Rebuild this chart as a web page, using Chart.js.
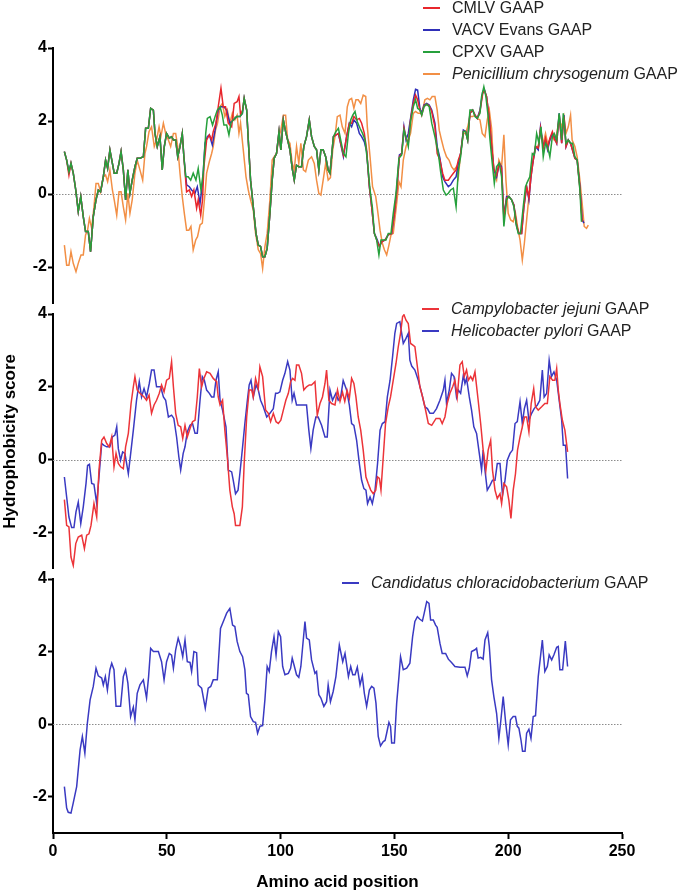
<!doctype html>
<html lang="en">
<head>
<meta charset="utf-8">
<title>GAAP hydrophobicity profiles</title>
<style>
    * { margin: 0; padding: 0; }
    body {
        width: 693px;
        height: 895px;
        position: relative;
        overflow: hidden;
        background: #fff;
        font-family: "Liberation Sans", Arial, sans-serif;
    }
    canvas { position: absolute; left: 0; }
    .legend {
        position: absolute;
        font-size: 16px;
        line-height: 22px;
        color: #222;
        white-space: nowrap;
        z-index: 2;
    }
    .legend .sw {
        display: inline-block;
        width: 17px;
        height: 2px;
        vertical-align: middle;
        margin-right: 12px;
        position: relative;
        top: -1px;
    }
</style>
</head>
<body>
<canvas id="panel1" width="693" height="316" style="top:0px"></canvas>
<canvas id="panel2" width="693" height="291" style="top:290px"></canvas>
<canvas id="panel3" width="693" height="340" style="top:555px"></canvas>
<div class="legend" id="legend1" style="left:423px; top:-3px"></div>
<div class="legend" id="legend2" style="left:422px; top:298px"></div>
<div class="legend" id="legend3" style="left:342px; top:572px"></div>

<script src="https://cdn.jsdelivr.net/npm/chart.js"></script>
<script>
    // axis ticks
    const xTicks = [0, 50, 100, 150, 200, 250];
    const yTicks = [-2, 0, 2, 4];

    // panel 1 : poxvirus GAAPs + Penicillium  [position, score]
    const cmlvGaap = [
        [5,1.16],[6,0.93],[7,0.52],[7.9,0.84],[8.9,0.57],[10,0.11],[11.1,-0.48],[12.2,-0.07],[13.3,-0.62],[14.3,-1.03],[15.5,-1.03],[16.5,-1.58],[17.7,-0.62],[18.9,-0.16],[19.9,0.11],[20.9,0.06],[22.1,0.47],[23.1,0.93],[24,0.7],[25,1.21],[26.1,0.84],[26.9,0.57],[28,0.57],[29,0.84],[29.9,1.16],[30.9,0.66],[31.9,-0.16],[32.9,0.66],[33.8,0.02],[34.8,0.38],[36,0.75],[37,0.98],[38.2,0.98],[39.7,1.02],[40.7,1.8],[41.9,1.8],[42.9,2.35],[44.1,2.3],[44.8,1.66],[45.8,1.3],[47,1.57],[48,0.66],[48.9,1.3],[49.9,1.66],[51.1,1.53],[52.1,1.57],[52.9,1.48],[53.9,1.48],[54.8,1.02],[55.8,1.3],[56.8,1.66],[57.5,1.02],
        [58.7,0.06],[59.9,0.11],[60.9,-0.07],[61.9,0.11],[63.1,-0.39],[63.8,-0.16],[64.9,-0.58],[65.7,-0.16],[66.3,0.75],[67.5,1.48],[68.7,1.62],[69.7,1.48],[70.4,1.71],[71.6,1.94],[72.6,2.39],[73.8,2.9],[74.8,2.39],[75.8,2.39],[77,1.94],[78.5,1.84],[79.6,2.48],[80.9,2.53],[81.7,2.67],[82.4,2.16],[83.3,2.3],[84,2.62],[85.1,2.3],[85.8,1.48],[86.8,0.38],[88,-0.35],[89.2,-1.08],[90.2,-1.4],[91.2,-1.44],[92.1,-1.72],[93.1,-1.72],[94.1,-1.49],[95.3,-0.53],[96.3,0.38],[97.2,0.98],[98.2,1.11],[99.3,1.71],[100.1,1.21],[101.2,2.03],[102.2,1.71],[103.1,1.48],[104.1,1.21],[105.1,0.7],[106,0.38],[107,0.79],[108,0.75],[109.2,0.75],[110.2,1.3],[111.4,1.57],[112.6,2.03],[113.6,1.57],[114.8,1.3],[115.8,1.21],[116.8,0.66],[117.7,1.21],[118.7,1.21],[119.8,1.02],[120.9,0.66],[121.7,0.57],
        [123.2,1.57],[125.4,1.66],[127.6,1.07],[129,1.57],[130.2,1.94],[131.2,1.94],[132.2,2.12],[133.4,2.03],[134.6,2.07],[135.6,1.94],[136.8,1.66],[137.8,1.21],[139,0.2],[140,-0.35],[141.2,-1.08],[142.5,-1.31],[143.4,-1.44],[144.4,-1.31],[145.9,-1.26],[147.3,-1.12],[148.8,-1.08],[150,-0.53],[151,0.06],[152.2,1.02],[153.2,1.11],[154.2,1.8],[155.1,1.53],[156.1,1.39],[157.1,2.03],[158.3,2.48],[159.3,2.71],[160.2,2.58],[161.2,2.3],[162,2.16],[163,2.41],[164.2,2.46],[165.3,2.41],[166.4,2.26],[167.8,1.84],[168.8,1.11],[170,0.93],[171.2,0.57],[172.2,0.38],[173.7,0.38],[174.7,0.47],[175.9,0.57],[177.1,0.66],[178.1,0.93],[179.1,1.11],[180.3,1.71],[181.3,1.71],[182.2,1.48],[183.2,2.21],[184.4,2.3],[185.4,2.16],[186.4,2.07],[187.6,2.26],[188.8,2.75],[189.5,2.85],[190.5,2.67],[191.7,2.07],[192.7,1.34],[193.7,0.7],[194.9,0.52],[196.1,0.84],[197.1,0.7],[198.1,-0.66],[199.3,-0.11],[200.3,-0.07],[201.5,-0.16],[202.5,-0.3],[203.7,-0.85],[204.7,-1.08],[205.9,-1.08],[206.9,-0.35],[208.1,0.2],[209.1,-0.11],[210,0.47],[211,0.93],[212,1.3],[213.2,1.26],[214.2,1.8],[215.4,1.26],[216.4,1.53],[217.3,1.26],[218.3,1.53],[219.4,1.71],[220.2,1.53],[221.3,1.39],[222.4,2.16],[223.5,1.39],[224.5,2.12],[225.4,1.3],[226.4,1.48],[227.4,1.39],[229.3,0.98],[230.3,0.93],[231.5,0.16],[232.5,-0.76]
    ];
    const vacvEvansGaap = [
        [5,1.16],[6,0.93],[7,0.61],[7.9,0.84],[8.9,0.57],[10,0.11],[11.1,-0.48],[12.2,-0.07],[13.3,-0.62],[14.3,-1.03],[15.5,-1.03],[16.5,-1.58],[17.7,-0.62],[18.9,-0.16],[19.9,0.11],[20.9,0.06],[22.1,0.47],[23.1,0.93],[24,0.7],[25,1.21],[26.1,0.84],[26.9,0.57],[28,0.57],[29,0.84],[29.9,1.16],[30.9,0.66],[31.9,-0.16],[32.9,0.66],[33.8,0.02],[34.8,0.38],[36,0.75],[37,0.98],[38.2,0.98],[39.7,1.02],[40.7,1.8],[41.9,1.8],[42.9,2.35],[44.1,2.3],[44.8,1.66],[45.8,1.3],[47,1.57],[48,0.66],[48.9,1.3],[49.9,1.66],[51.1,1.53],[52.1,1.57],[52.9,1.48],[53.9,1.48],[54.8,1.02],[55.8,1.3],[56.8,1.66],[57.5,1.02],
        [58.7,0.25],[59.9,0.2],[60.9,0.11],[62.4,0.02],[63.4,0.2],[64.6,-0.26],[65.7,0.29],[66.8,1.39],[67.8,1.57],[68.7,1.62],[70,1.34],[71.2,1.75],[72.6,2.3],[73.8,2.39],[75.1,2.39],[76.3,2.3],[77.7,1.94],[79.2,2.03],[80.7,2.12],[82.1,2.12],[83.2,2.21],[84,2.62],[85.1,2.3],[85.8,1.48],[86.8,0.38],[88,-0.35],[89.2,-1.08],[90.2,-1.4],[91.2,-1.44],[92.1,-1.72],[93.1,-1.72],[94.1,-1.49],[95.3,-0.53],[96.3,0.38],[97.2,0.98],[98.2,1.11],[99.3,1.71],[100.1,1.21],[101.2,2.03],[102.2,1.71],[103.1,1.48],[104.1,1.21],[105.1,0.7],[106,0.38],[107,0.79],[108,0.75],[109.2,0.75],[110.2,1.3],[111.4,1.57],[112.6,2.03],[113.6,1.57],[114.8,1.3],[115.8,1.21],[116.8,0.66],[117.7,1.21],[118.7,1.21],[119.8,1.02],[120.9,0.66],[121.7,0.57],
        [123.2,1.57],[125.4,1.66],[127.6,1.02],[129,1.57],[130.2,1.94],[131.2,1.84],[132.2,2.03],[133.4,1.94],[134.6,1.66],[135.6,1.57],[136.8,1.43],[137.8,1.16],[139,0.2],[140,-0.35],[141.2,-1.08],[142.5,-1.26],[143.4,-1.44],[144.4,-1.31],[145.9,-1.26],[147.3,-1.12],[148.8,-1.08],[150,-0.53],[151,0.11],[152.2,1.07],[153.2,1.11],[154.2,1.84],[155.1,1.48],[156.1,1.66],[157.1,2.07],[158.3,2.58],[159.3,2.87],[160.2,2.85],[161.2,2.35],[162,2.21],[163,2.44],[164.2,2.48],[165.3,2.44],[166.4,2.3],[167.8,1.94],[168.8,1.3],[170,0.98],[171.2,0.47],[172.2,0.34],[173.7,0.2],[174.7,0.25],[175.9,0.38],[177.1,0.47],[178.1,0.84],[179.1,1.11],[180.3,1.75],[181.3,1.71],[182.2,1.48],[183.2,2.21],[184.4,2.3],[185.4,2.16],[186.4,2.07],[187.6,2.3],[188.8,2.8],[189.5,2.87],[190.5,2.67],[191.7,2.03],[192.7,1.3],[193.7,0.66],[194.9,0.47],[196.1,0.84],[197.1,0.75],[198.1,-0.62],[199.3,-0.07],[200.3,-0.07],[201.5,-0.16],[202.5,-0.3],[203.7,-0.89],[204.7,-1.08],[205.9,-1.08],[206.9,-0.35],[208.1,0.2],[209.1,-0.16],[210,0.47],[211,0.93],[212,1.3],[213.2,1.21],[214.2,1.84],[215.4,1.3],[216.4,1.48],[217.3,1.21],[218.3,1.48],[219.4,1.66],[220.2,1.57],[221.3,1.39],[222.4,2.21],[223.5,1.39],[224.5,2.16],[225.4,1.3],[226.4,1.48],[227.4,1.39],[229.3,0.98],[230.3,0.93],[231.5,0.2],[232.5,-0.71],[233.3,-0.8]
    ];
    const cpxvGaap = [
        [5,1.16],[6,0.93],[7,0.61],[7.9,0.84],[8.9,0.57],[10,0.11],[11.1,-0.48],[12.2,-0.07],[13.3,-0.62],[14.3,-1.03],[15.5,-1.03],[16.5,-1.58],[17.7,-0.62],[18.9,-0.16],[19.9,0.11],[20.9,0.06],[22.1,0.47],[23.1,0.93],[24,0.7],[25,1.21],[26.1,0.84],[26.9,0.57],[28,0.57],[29,0.84],[29.9,1.16],[30.9,0.66],[31.9,-0.16],[32.9,0.66],[33.8,0.02],[34.8,0.38],[36,0.75],[37,0.98],[38.2,0.98],[39.7,1.02],[40.7,1.8],[41.9,1.8],[42.9,2.35],[44.1,2.3],[44.8,1.66],[45.8,1.3],[47,1.57],[48,0.66],[48.9,1.3],[49.9,1.66],[51.1,1.53],[52.1,1.57],[52.9,1.48],[53.9,1.48],[54.8,1.02],[55.8,1.3],[56.8,1.66],[57.5,1.02],[58.3,0.47],[59.4,0.47],[60.5,0.38],[61.6,0.57],[62.8,0.38],[63.8,0.7],[65,0.11],[66,0.57],[67.1,1.66],[67.8,2.07],[69,2.12],[70.1,1.89],[71.2,2.12],[72.2,2.3],[73.4,2.39],[74.4,2.16],[75.1,1.89],[76.3,1.89],[77.3,1.62],[78.2,1.94],[79.2,2.03],[80.7,2.12],[82.1,2.12],[83.2,2.21],[84,2.62],[85.1,2.3],[85.8,1.48],[86.8,0.38],[88,-0.35],[89.2,-1.08],[90.2,-1.4],[91.2,-1.44],[92.1,-1.72],[93.1,-1.72],[94.1,-1.49],[95.3,-0.53],[96.3,0.38],[97.2,0.98],[98.2,1.11],[99.3,1.71],[100.1,1.21],[101.2,2.03],[102.2,1.71],[103.1,1.48],[104.1,1.21],[105.1,0.7],[106,0.38],[107,0.79],[108,0.75],[109.2,0.75],[110.2,1.3],[111.4,1.57],[112.6,2.03],[113.6,1.57],[114.8,1.3],[115.8,1.21],[116.8,0.66],[117.7,1.21],[118.7,1.21],[119.8,1.02],[120.9,0.66],[121.7,0.57],
        [123.2,1.57],[124.3,1.71],[125.4,1.8],[126.4,1.48],[127.6,1.11],[128.7,1.02],[129.8,1.66],[130.8,2.03],[131.7,2.16],[132.7,2.26],[133.7,1.98],[134.9,1.8],[136,1.66],[137.1,1.48],[138.1,0.93],[139.3,0.11],[140.3,-0.35],[141.2,-1.08],[142.2,-1.26],[143.2,-1.67],[144.1,-1.26],[145.1,-1.26],[146.3,-1.26],[147.3,-1.08],[148.5,-1.08],[149.5,-0.53],[150.7,0.02],[152,0.98],[153.2,1.07],[154.2,1.75],[155.1,1.57],[156.1,1.3],[157.1,1.98],[158.3,2.39],[159.3,2.58],[160.2,2.35],[161.2,2.3],[162,2.16],[163,2.39],[164.2,2.46],[165.3,2.39],[166.4,1.94],[167.8,1.57],[169.3,1.11],[170.3,0.61],[171.5,0.11],[172.7,-0.03],[173.7,0.02],[174.7,0.11],[175.9,0.16],[177.1,-0.35],[178.1,0.66],[179.1,1.02],[180.3,1.71],[181.3,1.71],[182.2,1.48],[183.2,2.3],[184.4,2.3],[185.4,2.12],[186.4,2.07],[187.6,2.21],[188.3,2.67],[189.3,2.94],[190.2,2.67],[191.2,2.12],[192,1.48],[193,0.84],[193.9,0.29],[194.9,0.75],[196.1,0.84],[197.1,0.47],[198.1,-0.89],[199.3,-0.16],[200.3,-0.07],[201.5,-0.16],[202.5,-0.35],[203.4,-0.8],[204.4,-1.08],[205.4,-1.08],[206.6,-0.35],[207.6,0.2],[208.5,0.34],[209.5,0.47],[210.6,1.11],[211.5,1.07],[212.5,1.66],[213.5,1.39],[214.4,1.84],[215.4,1.02],[216.4,1.39],[217.3,1.3],[218.3,1.02],[219.4,1.57],[220.2,1.66],[221.3,1.48],[222.4,2.21],[223.5,1.48],[224.2,2.21],[225.4,1.39],[226.4,1.48],[227.4,1.39],[228.3,1.39],[229.3,1.02],[230.3,0.93],[231.5,0.11],[232.2,-0.76]
    ];
    const penicilliumGaap = [
        [5,-1.4],[6,-1.95],[7,-1.95],[7.9,-1.58],[8.9,-1.9],[10.1,-2.13],[11.1,-1.9],[12.3,-1.67],[13.3,-1.67],[14.3,-1.12],[15.2,-0.99],[16,-0.67],[17,-0.94],[18,-0.35],[18.9,0.29],[19.9,0.29],[20.9,0.06],[22.1,0.47],[23.1,0.52],[24,0.34],[25,0.66],[26.1,0.11],[26.9,-0.16],[28,-0.58],[29,0.06],[29.9,0.06],[30.9,-0.35],[31.9,-0.71],[32.9,0.02],[33.8,-0.53],[34.8,-0.16],[36,0.57],[37,0.93],[38.2,0.66],[39.4,0.38],[40.4,1.11],[41.1,1.3],[42.2,1.71],[43.3,1.84],[44.5,1.3],[45.5,1.48],[46.6,1.84],[47.4,1.57],[48.5,1.94],[49.5,1.66],[50.7,1.48],[51.7,1.3],[52.9,1.66],[53.9,1.66],[54.8,1.3],[55.8,0.57],[56.8,-0.07],[57.7,-0.53],[58.7,-0.99],[59.7,-0.99],[60.6,-0.89],[61.6,-1.53],[62.7,-1.26],[63.5,-1.17],[64.6,-0.85],[65.6,-0.8],[66.8,0.02],[67.5,0.57],[68.7,0.89],[69.7,1.11],[70.4,1.3],[71.4,1.75],[72.3,1.94],[73.4,2.39],[74.4,2.48],[75.5,2.12],[76.6,2.3],[77.7,1.94],[78.8,2.21],[79.9,2.03],[80.9,2.16],[81.7,1.66],[82.4,1.94],[83.6,1.21],[84.8,0.47],[85.8,0.11],[86.8,-0.16],[88,-0.44],[89,-1.08],[90.2,-1.53],[91.2,-1.63],[92.1,-2.04],[93.1,-1.44],[94.1,-1.08],[95.3,-0.16],[96.3,0.93],[97.2,1.02],[98.2,1.11],[99.3,1.57],[100.1,1.75],[101.2,2.16],[102.2,2.16],[103.1,1.48],[104.1,1.39],[105.1,0.84],[106,0.66],[107,1.3],[108,0.84],[108.9,1.39],[110,0.66],[111,0.61],[112.2,0.93],[113.6,1.02],[114.8,0.84],[115.8,0.38],[116.8,0.02],[117.7,-0.03],[118.7,0.38],[119.8,0.84],[120.9,0.38],[121.9,0.45],
        [122.9,1.21],[123.9,1.57],[124.9,2.12],[126.1,2.16],[127.1,1.84],[128.3,1.66],[129.3,2.39],[130.2,2.58],[131.2,2.62],[132.2,2.35],[133.1,2.58],[134.1,2.58],[135.2,2.48],[136.3,2.71],[137.4,2.67],[138.1,1.84],[139.3,1.02],[140.4,0.2],[141.8,-0.07],[142.6,-0.44],[143.7,-0.99],[144.7,-1.35],[145.6,-1.53],[146.6,-1.67],[147.6,-1.4],[148.5,-1.12],[149.5,-1.08],[151,-0.26],[152,0.34],[152.9,0.2],[153.9,0.93],[155.1,1.3],[156.1,1.48],[157.1,1.66],[158.3,2.21],[159.3,2.26],[160.5,2.21],[161.5,2.21],[162.4,2.3],[163.4,2.58],[164.5,2.62],[165.6,2.58],[166.6,2.67],[167.8,2.67],[168.8,2.3],[169.7,1.75],[170.7,1.48],[171.8,1.21],[172.9,1.02],[174,0.93],[175.1,0.75],[176.2,0.66],[177.3,0.75],[178.1,0.47],[179.1,1.11],[180.3,1.66],[181.3,1.66],[182.2,1.84],[183.2,2.12],[184.4,2.12],[185.4,2.16],[186.4,2.07],[187.6,2.03],[188.6,1.66],[189.8,1.57],[190.8,2.03],[191.7,2.3],[192.7,1.8],[193.7,0.57],[194.9,0.38],[195.9,0.93],[197.1,0.75],[198.1,1.62],[199,0.38],[200,-0.53],[201.1,-0.71],[202.2,-0.76],[203.2,-0.53],[204.1,-0.89],[205.2,-1.26],[206.2,-1.81],[207.1,-1.35],[208.1,-0.71],[209.1,-0.07],[210,0.66],[211,0.93],[212,1.3],[213.2,1.3],[214.2,1.71],[215.4,1.39],[216.4,1.66],[217.3,1.39],[218.3,1.48],[219.4,1.57],[220.2,1.48],[221.3,1.66],[222.4,2.03],[223.5,1.84],[224.5,2.12],[225.4,1.66],[226.4,1.84],[227.4,2.16],[228.1,1.48],[229.3,1.3],[230.3,1.02],[231.5,0.38],[232.5,-0.26],[233.4,-0.89],[234.4,-0.94],[235.2,-0.85]
    ];

    // panel 2 : bacterial GAAPs
    const campylobacterGaap = [
        [5,-1.1],[6,-1.81],[7,-1.85],[7.9,-2.68],[8.9,-2.91],[10,-2.31],[11.1,-2.13],[12.6,-2.08],[13.8,-2.45],[14.8,-2.08],[15.8,-2.04],[16.7,-1.81],[18,-1.21],[19.2,-1.58],[20.2,-0.29],[21.4,0.53],[22.4,0.62],[23.6,0.44],[24.7,0.35],[25.8,0.62],[26.8,-0.2],[27.7,0.17],[28.7,-0.11],[29.7,-0.2],[30.9,-0.25],[31.9,0.35],[33.1,0.72],[34.3,1.54],[35.3,2.0],[36,2.28],[37,1.91],[38.2,1.82],[40,1.72],[41.1,1.63],[42.2,1.77],[43.3,1.27],[44.4,1.5],[45.5,1.63],[46.7,1.82],[47.7,2.05],[48.8,1.86],[49.9,2.18],[51.1,2.23],[52.1,2.69],[52.9,2.0],[53.9,1.27],[55,0.94],[56.1,0.9],[57,0.58],[58,0.94],[59,0.62],[60.2,0.85],[61.3,1.04],[62.4,1.08],[63.4,1.72],[64.3,2.5],[65.3,2.0],[66.3,2.23],[67.5,2.41],[69,2.37],[70.4,2.23],[71.9,2.14],[72.6,1.72],[73.4,1.5],[74.5,1.63],[75.5,0.81],[76.6,0.07],[77.7,-0.84],[78.8,-1.3],[79.6,-1.49],[80.2,-1.81],[82.1,-1.81],[83.2,-1.3],[84,-0.11],[85.1,1.17],[86.2,1.91],[87.3,1.91],[88,1.72],[89,2.23],[90.2,1.95],[90.9,2.55],[92.1,2.28],[93.4,1.36],[94.6,1.27],[95.6,1.04],[96.8,1.27],[98,1.04],[99,0.99],[100.1,1.08],[101.2,1.36],[102.3,1.63],[103.4,1.82],[104.4,2.14],[105.3,2.23],[106.3,2.18],[107,2.6],[108,2.6],[109.2,2.37],[110.2,1.91],[111.4,2.0],[112.6,2.05],[113.6,2.05],[115.1,2.14],[116.1,1.22],[117.3,1.54],[118.4,1.72],[119.5,2.09],[120.2,2.46],[121.2,1.63],[122.4,1.54],
        [123.9,1.5],[125,1.91],[126.1,1.6],[127.2,1.85],[128.2,1.6],[129.2,1.9],[130.2,1.68],[131.2,2.23],[132.2,2.09],[133.1,1.72],[134.1,1.17],[135.2,0.81],[136.3,0.26],[137.5,-0.48],[138.5,-0.66],[139.6,-0.84],[140.7,-0.94],[141.8,-0.84],[142.6,-0.48],[143.4,-0.52],[144.1,-0.84],[145.1,0.07],[146.1,0.99],[147.3,1.45],[148.3,1.72],[149.5,2.18],[150.7,2.64],[151.7,3.1],[152.7,3.47],[153.6,3.93],[154.2,3.98],[155.1,3.83],[156.1,3.74],[157.1,3.19],[158,3.15],[159,3.1],[160.1,2.55],[161.2,2.0],[162.4,1.72],[163.4,1.45],[164.9,0.99],[166.4,0.94],[168.3,1.13],[170,1.13],[171,0.99],[172.2,1.17],[173.2,1.54],[174.4,1.82],[175.6,2.0],[176.6,2.18],[177.6,1.72],[178.8,2.6],[179.8,2.69],[180.7,2.28],[181.7,2.46],[182.5,2.18],[183.5,2.28],[184.4,2.18],[185.4,2.41],[186.8,1.63],[187.9,0.99],[189,0.26],[190.2,-0.29],[191.2,0.26],[192.3,0.53],[193.1,-0.29],[194.2,-0.84],[195.2,-1.07],[196.4,-0.94],[197.1,-1.21],[198.1,-0.66],[199.3,-0.75],[200.3,-1.12],[201.2,-1.62],[202.2,-0.84],[203.2,-0.39],[204.1,0.26],[205.2,0.62],[206.2,0.9],[207.2,1.17],[208.1,1.17],[209.1,0.76],[210.1,1.54],[211.2,1.95],[212,1.45],[213.2,1.36],[214.7,1.45],[216.1,1.54],[217.2,1.54],[218.3,2.28],[219.5,2.18],[220.5,2.18],[221.3,2.5],[222,1.91],[222.7,1.54],[223.8,1.08],[224.9,0.81],[226.1,0.21]
    ];
    const helicobacterGaap = [
        [5,-0.48],[6,-1.03],[7,-1.58],[8.2,-1.87],[9.2,-1.87],[10.1,-1.44],[11.1,-1.17],[12.2,-1.76],[13.3,-1.3],[14.5,-0.66],[15.2,-0.16],[16,-0.13],[17,-0.66],[18,-0.68],[19.2,-1.21],[20.2,-0.48],[21.4,0.44],[22.4,0.39],[23.6,0.35],[25,0.35],[26.1,0.62],[27.2,0.67],[28,0.9],[28.7,0.3],[29.7,-0.02],[30.6,0.21],[31.6,0.17],[33.1,-0.39],[34.3,0.26],[35.3,0.81],[36.7,1.63],[37.9,2.14],[38.9,1.72],[40,1.95],[41.1,1.72],[42.3,2.09],[43.3,2.46],[44.4,2.46],[45.5,2.0],[47.3,2.0],[48.5,1.72],[49.5,1.63],[50.7,1.17],[52.1,1.22],[53.1,1.13],[54.3,0.62],[55.3,0.07],[56.1,-0.29],[57.2,0.17],[58,0.35],[59,0.76],[60.2,0.94],[61.3,0.99],[62.4,0.72],[63.4,0.72],[64.6,1.63],[65.6,2.28],[66.5,2.18],[67.5,1.91],[68.7,1.82],[69.7,1.72],[70.7,1.72],[71.6,2.18],[72.6,2.41],[73.4,1.63],[74.5,1.36],[76,0.9],[77,-0.29],[78.5,-0.34],[79.2,-0.57],[80.2,-0.94],[81.3,-0.84],[82.1,-0.39],[83.3,0.35],[84.3,0.99],[85.4,1.63],[86.2,2.05],[87,2.18],[88,1.72],[89.2,2.05],[90.2,1.91],[91.2,1.63],[92.4,1.45],[93.9,1.17],[95.3,1.27],[96.8,1.4],[97.8,1.82],[98.7,1.82],[99.7,1.86],[100.9,2.18],[101.9,2.37],[103.1,2.69],[104.1,2.46],[105.1,1.63],[105.9,1.82],[107,1.5],[109.2,1.5],[111.4,1.5],[112.4,0.81],[113.3,0.3],[114.3,0.81],[115.5,1.17],[116.5,1.17],[118,0.94],[119.5,0.62],[120.5,0.62],[121.7,1.91],[122.8,1.63],[124.3,1.82],[125.3,1.63],[126.4,1.72],[127.5,2.17],[129,1.91],[130.2,1.5],
        [131.2,0.99],[132.2,0.94],[133.4,0.53],[134.6,-0.11],[135.6,-0.57],[136.6,-0.8],[137.5,-0.84],[138.2,-1.21],[139.3,-1.03],[140.3,-1.21],[141.5,-0.84],[142.6,-0.11],[143.7,0.81],[144.7,0.99],[145.9,1.04],[146.9,1.72],[148.1,2.18],[149.2,2.83],[150.2,3.47],[151,3.74],[152.4,3.79],[153.2,3.47],[153.9,3.19],[155.1,3.33],[156.1,3.47],[156.8,2.73],[157.6,2.57],[159,2.46],[160.5,2.18],[162,1.82],[163.4,1.45],[164.5,1.4],[165.6,1.27],[167.1,1.27],[168.5,1.4],[170,1.63],[171.5,1.91],[172.2,2.18],[172.9,1.54],[174.1,1.91],[175.1,2.37],[176.2,2.28],[177.3,1.72],[178.1,1.91],[179.1,1.82],[180.3,2.32],[181,2.09],[181.7,2.23],[182.9,1.72],[183.9,1.36],[184.9,0.9],[186.1,0.72],[187.3,0.17],[188.3,-0.29],[189,0.26],[189.8,-0.29],[190.8,-0.84],[192,-0.71],[193.1,-0.57],[194.2,-0.57],[195.2,-0.11],[196.4,-0.11],[197.5,-0.98],[198.6,-0.57],[199.6,-0.02],[200.8,0.17],[201.9,0.26],[203,0.99],[204,1.04],[205.2,1.59],[206.2,0.99],[207.1,1.4],[208.1,1.63],[209.1,1.08],[210.3,1.27],[211.4,1.4],[212.8,1.5],[213.9,1.63],[215,2.46],[215.8,1.72],[216.9,1.82],[218,2.73],[219,2.28],[220.1,2.41],[221.3,2.18],[222.4,1.63],[223.5,1.08],[224.2,0.39],[225.2,0.39],[226.1,-0.52]
    ];

    // panel 3
    const candidatusGaap = [
        [5,-1.72],[6,-2.31],[6.7,-2.43],[7.9,-2.45],[8.9,-2.17],[10.4,-1.72],[11.9,-0.71],[12.9,-0.34],[14,-0.8],[15.1,0.03],[16.3,0.67],[17.7,1.04],[18.9,1.54],[19.9,1.33],[21.4,1.27],[22.1,1.08],[23,1.31],[23.9,0.94],[25,1.5],[25.8,1.68],[26.8,1.5],[27.7,0.49],[29.7,0.49],[30.9,1.31],[31.9,1.5],[32.9,1.13],[34.1,0.21],[35.3,0.47],[36,0.12],[37,0.85],[38.2,1.08],[39.7,1.22],[41.1,0.72],[42,1.31],[42.9,2.09],[44.1,2.0],[46.3,2.0],[47.7,1.72],[48.8,1.22],[49.9,1.72],[51.1,1.95],[52.1,1.9],[52.9,1.54],[53.9,2.05],[55,2.37],[56.1,2.14],[57,1.86],[58,2.32],[59,1.72],[60.2,1.7],[60.9,1.45],[61.9,2.0],[63.1,1.97],[63.8,1.08],[65.3,0.99],[66.9,0.44],[68.2,0.99],[69.3,1.04],[70.4,1.22],[72.2,1.22],[73.6,2.64],[75.1,2.87],[76.3,3.06],[77.7,3.19],[78.9,2.73],[79.9,2.69],[80.9,2.28],[82.1,2.0],[83.3,1.86],[84.3,1.5],[85,0.85],[85.8,0.81],[86.8,0.21],[88,0.07],[89,0.05],[89.9,-0.25],[90.9,-0.06],[92.1,-0.04],[93.1,0.67],[94.1,1.59],[95,1.45],[96,2.0],[97.1,2.41],[98,1.9],[99,2.55],[100,2.41],[100.9,1.59],[101.9,1.36],[103.4,1.4],[104.4,1.54],[105.1,1.82],[105.9,1.63],[107,1.36],[108,1.29],[108.9,1.59],[109.7,2.14],[110.7,2.83],[111.4,2.37],[112.6,2.32],[113.6,1.77],[115.1,1.4],[115.8,1.45],[116.8,0.81],[117.7,0.72],[119,0.49],[120.2,0.62],[120.9,1.08],[121.9,0.62],[123.1,0.9],[124.3,1.31],[125.8,2.18],[127.3,1.72],[128.3,1.95],[129.8,1.31],[130.8,1.59],[131.7,1.36],[132.7,1.36],[133.7,1.57],[134.9,1.08],[135.9,1.33],[136.8,0.85],[137.8,0.49],[139,0.94],[140,1.04],[141,0.99],[141.9,0.58],[142.9,-0.34],[143.9,-0.6],[145.1,-0.48],[145.9,-0.45],[146.6,-0.25],[147.6,0.05],[148.3,-0.06],[148.8,-0.52],[150,-0.52],[151,0.58],[152,1.31],[152.7,1.86],[153.9,1.5],[155.4,1.54],[156.8,1.68],[158,2.41],[159,2.83],[160.1,2.96],[161.2,2.89],[162.3,2.84],[163.1,3.06],[164.2,3.38],[165.2,3.33],[165.9,2.87],[167.1,2.87],[168.1,2.73],[168.8,2.67],[170,2.23],[171,1.95],[172.5,1.95],[173.7,1.79],[175.1,1.7],[176.6,1.59],[178.8,1.57],[181,1.57],[182,1.33],[182.9,1.54],[183.9,2.0],[185.4,2.05],[186.1,2.09],[186.8,1.82],[187.9,1.84],[189,1.79],[189.8,2.32],[191,2.52],[191.7,2.14],[192.7,1.22],[193.7,0.76],[194.9,0.3],[195.9,-0.39],[196.8,0.12],[197.8,0.76],[198.9,0.03],[200,-0.57],[201,0.12],[202.2,0.21],[203.2,0.21],[204,-0.06],[204.7,-0.11],[205.6,-0.43],[206.3,-0.75],[207.4,-0.75],[208.1,-0.25],[209.1,-0.14],[210,-0.39],[211,0.21],[212,0.23],[213.2,1.31],[215,2.32],[216.1,1.45],[217.2,1.59],[218,1.91],[219.1,1.77],[220.1,1.91],[221.3,2.12],[222,2.14],[222.7,1.5],[223.9,1.5],[225.1,2.29],[226.1,1.59]
    ];

    // legend texts
    const panel1Labels = ['CMLV GAAP', 'VACV Evans GAAP', 'CPXV GAAP', '<i>Penicillium chrysogenum</i> GAAP'];
    const panel2Labels = ['<i>Campylobacter jejuni</i> GAAP', '<i>Helicobacter pylori</i> GAAP'];
    const panel3Labels = ['<i>Candidatus chloracidobacterium</i> GAAP'];

    const colors = {
        red: '#e8262c',
        blue: '#2f2fb8',
        green: '#26a03c',
        orange: '#f28f45',
        red2: '#ec3439',
        blue2: '#3a3ac2'
    };

    function buildLegend(id, labels, cols) {
        document.getElementById(id).innerHTML = labels.map((t, i) =>
            '<div><span class="sw" style="background:' + cols[i] + '"></span>' + t + '</div>'
        ).join('');
    }
    buildLegend('legend1', panel1Labels, [colors.red, colors.blue, colors.green, colors.orange]);
    buildLegend('legend2', panel2Labels, [colors.red2, colors.blue2]);
    buildLegend('legend3', panel3Labels, [colors.blue2]);

    const toXY = arr => arr.map(p => ({x: p[0], y: p[1]}));

    // dotted line at score 0
    const zeroLine = {
        id: 'zeroLine',
        beforeDatasetsDraw(chart) {
            const {ctx, scales: {x, y}} = chart;
            const py = Math.round(y.getPixelForValue(0)) + 0.5;
            ctx.save();
            ctx.strokeStyle = '#8c8c8c';
            ctx.lineWidth = 1;
            ctx.setLineDash([1.5, 1.5]);
            ctx.beginPath();
            ctx.moveTo(x.getPixelForValue(xTicks[0]), py);
            ctx.lineTo(x.getPixelForValue(xTicks[xTicks.length - 1]), py);
            ctx.stroke();
            ctx.restore();
        }
    };

    const tickFont = {family: '"Liberation Sans", Arial, sans-serif', size: 16, weight: 'bold'};
    const titleFont = {family: '"Liberation Sans", Arial, sans-serif', size: 17, weight: 'bold'};

    function panelConfig(datasets, padding, showX, yTitle) {
        return {
            type: 'line',
            data: {datasets},
            options: {
                responsive: false,
                animation: false,
                layout: {padding},
                plugins: {legend: {display: false}, tooltip: {enabled: false}},
                elements: {point: {radius: 0}, line: {borderWidth: 1.5, tension: 0}},
                scales: {
                    x: {
                        type: 'linear',
                        min: xTicks[0],
                        max: xTicks[xTicks.length - 1],
                        display: showX,
                        afterBuildTicks: s => { s.ticks = xTicks.map(v => ({value: v})); },
                        afterFit: s => { if (showX) s.height = 62; },
                        ticks: {color: '#000', font: tickFont, padding: 3, maxRotation: 0},
                        grid: {drawOnChartArea: false, tickLength: 6, tickWidth: 2, tickColor: '#000'},
                        border: {color: '#000', width: 2},
                        title: {display: showX, text: 'Amino acid position', color: '#000', font: titleFont, padding: {top: 0, bottom: 2}}
                    },
                    y: {
                        type: 'linear',
                        min: -3,
                        max: 4,
                        afterBuildTicks: s => { s.ticks = yTicks.map(v => ({value: v})); },
                        afterFit: s => { s.width = 53; },
                        ticks: {color: '#000', font: tickFont, padding: 1},
                        grid: {drawOnChartArea: false, tickLength: 5, tickWidth: 2, tickColor: '#000'},
                        border: {color: '#000', width: 2},
                        title: {display: !!yTitle, text: yTitle || '', color: '#000', font: titleFont, padding: {top: 0, bottom: 0}}
                    }
                }
            },
            plugins: [zeroLine]
        };
    }

    const line = (label, data, color, order) => ({
        label, data: toXY(data), borderColor: color, backgroundColor: color,
        fill: false, order
    });

    new Chart(document.getElementById('panel1'), panelConfig([
        line('CMLV GAAP', cmlvGaap, colors.red, 1),
        line('VACV Evans GAAP', vacvEvansGaap, colors.blue, 2),
        line('CPXV GAAP', cpxvGaap, colors.green, 0),
        line('Penicillium chrysogenum GAAP', penicilliumGaap, colors.orange, 3)
    ], {top: 48, bottom: 12.5, left: 0, right: 71}, false, null));

    new Chart(document.getElementById('panel2'), panelConfig([
        line('Campylobacter jejuni GAAP', campylobacterGaap, colors.red2, 0),
        line('Helicobacter pylori GAAP', helicobacterGaap, colors.blue2, 1)
    ], {top: 24, bottom: 12.3, left: 0, right: 71}, false, 'Hydrophobicity score'));

    new Chart(document.getElementById('panel3'), panelConfig([
        line('Candidatus chloracidobacterium GAAP', candidatusGaap, colors.blue2, 0)
    ], {top: 24, bottom: 0, left: 0, right: 71}, true, null));
</script>
</body>
</html>
